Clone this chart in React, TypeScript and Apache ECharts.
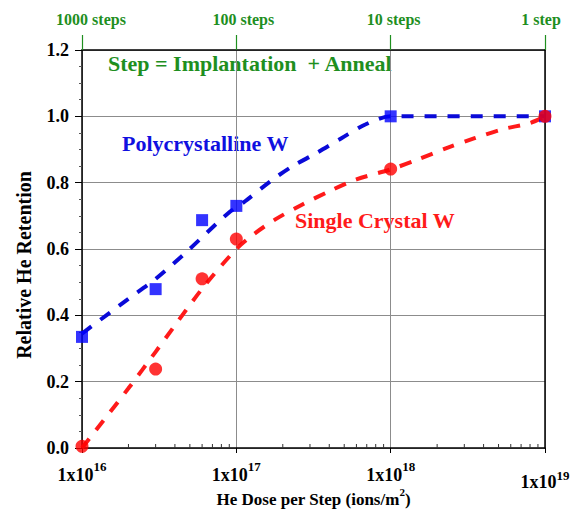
import React, { useEffect, useRef } from "react";
import * as echarts from "echarts";

// ---- data ----
const polyX = [1e16, 3e16, 6e16, 1e17, 1e18, 1e19];
const polyY = [0.335, 0.479, 0.687, 0.73, 1.0, 1.0];
const singleX = [1e16, 3e16, 6e16, 1e17, 1e18, 1e19];
const singleY = [0.005, 0.238, 0.51, 0.63, 0.841, 1.0];

const polyFitX = [1e16, 2e16, 3e16, 4.8e16, 8.7e16, 1.14e17, 1.66e17, 2.3e17, 3.3e17, 4.8e17, 6.9e17, 1e18, 1e19];
const polyFitY = [0.345, 0.45, 0.51, 0.593, 0.705, 0.744, 0.804, 0.849, 0.889, 0.934, 0.976, 1.0, 1.0];
const singleFitX = [1e16, 2e16, 3e16, 6e16, 1e17, 1.3e17, 1.8e17, 2.7e17, 4e17, 6e17, 1e18, 1.5e18, 2.3e18, 3.5e18, 5.2e18, 8e18, 1e19];
const singleFitY = [0.0, 0.18, 0.29, 0.48, 0.6, 0.645, 0.69, 0.735, 0.774, 0.81, 0.84, 0.87, 0.904, 0.934, 0.96, 0.98, 1.0];

const xMin = 1e16;
const xMax = 1e19;
const yMin = 0;
const yMax = 1.2;
const yInterval = 0.2;
const stepLabels: Record<number, string> = { 16: "1000 steps", 17: "100 steps", 18: "10 steps", 19: "1 step" };
const minorMultipliers = [2, 3, 4, 5, 6, 7, 8, 9];
const decades = [16, 17, 18];

const FONT = "Liberation Serif";
const GREEN = "#1f8f1f";
const BLUE = "#0000ff";
const RED = "#ff0000";

const stepStyle = (pad: number[]) => ({
  fontFamily: FONT,
  fontWeight: "bold",
  fontSize: 16,
  color: GREEN,
  padding: pad,
});

export default function App() {
  const ref = useRef<HTMLDivElement>(null);
  useEffect(() => {
    if (!ref.current) return;
    const chart = echarts.init(ref.current, undefined, { renderer: "svg" });
    const minorTicks: number[][] = [];
    decades.forEach((d) => minorMultipliers.forEach((m) => minorTicks.push([m * Math.pow(10, d), 0])));

    const option: any = {
      animation: false,
      backgroundColor: "#fff",
      grid: { left: 82, right: 39, top: 50, bottom: 64, containLabel: false, outerBoundsMode: "none" },
      xAxis: [
        {
          type: "log",
          logBase: 10,
          min: xMin,
          max: xMax,
          position: "bottom",
          name: "{a|He Dose per Step (ions/m}{s|2}{a|)}",
          nameLocation: "middle",
          nameGap: 38,
          nameMoveOverlap: false,
          nameTextStyle: {
            rich: {
              a: { fontFamily: FONT, fontWeight: "bold", fontSize: 17, color: "#000", lineHeight: 22, verticalAlign: "bottom" },
              s: { fontFamily: FONT, fontWeight: "bold", fontSize: 11, color: "#000", lineHeight: 16, verticalAlign: "top" },
            },
          },
          axisLine: { show: true, onZero: false, lineStyle: { color: "#000", width: 1.5 } },
          axisTick: { show: true, length: 5, lineStyle: { color: "#000" } },
          minorTick: { show: false },
          splitLine: { show: true, lineStyle: { color: "#8c8c8c", width: 1 } },
          axisLabel: {
            margin: 12,
            formatter: (v: number) => {
              const e = Math.round(Math.log10(v));
              return e === 19 ? `{b2|1x10}{s2|${e}}` : `{b|1x10}{s|${e}}`;
            },
            rich: {
              b: { fontFamily: FONT, fontWeight: "bold", fontSize: 18, color: "#000", lineHeight: 24, verticalAlign: "bottom" },
              s: { fontFamily: FONT, fontWeight: "bold", fontSize: 13, color: "#000", lineHeight: 12, verticalAlign: "top" },
              b2: { fontFamily: FONT, fontWeight: "bold", fontSize: 18, color: "#000", lineHeight: 31, verticalAlign: "bottom" },
              s2: { fontFamily: FONT, fontWeight: "bold", fontSize: 13, color: "#000", lineHeight: 12, verticalAlign: "middle" },
            },
          },
        },
        {
          type: "log",
          logBase: 10,
          min: xMin,
          max: xMax,
          position: "top",
          axisLine: { show: true, onZero: false, lineStyle: { color: "#000", width: 1.5 } },
          axisTick: { show: true, length: 15, lineStyle: { color: GREEN, width: 1.2 } },
          splitLine: { show: false },
          axisLabel: {
            margin: 23,
            fontFamily: FONT,
            fontWeight: "bold",
            fontSize: 16,
            color: GREEN,
            formatter: (v: number) => {
              const e = Math.round(Math.log10(v));
              return stepLabels[e] ? `{t${e}|${stepLabels[e]}}` : "";
            },
            rich: {
              t16: stepStyle([0, 0, 0, 18]),
              t17: stepStyle([0, 0, 0, 14]),
              t18: stepStyle([0, 0, 0, 6]),
              t19: stepStyle([0, 8, 0, 0]),
            },
          },
        },
      ],
      yAxis: [
        {
          type: "value",
          min: yMin,
          max: yMax,
          interval: yInterval,
          name: "Relative He Retention",
          nameLocation: "middle",
          nameGap: 48,
          nameMoveOverlap: false,
          nameTextStyle: { fontFamily: FONT, fontWeight: "bold", fontSize: 20, color: "#000", padding: [0, 32, 0, 0] },
          axisLine: { show: true, onZero: false, lineStyle: { color: "#000", width: 1.5 } },
          axisTick: { show: true, length: 7, lineStyle: { color: "#000" } },
          minorTick: { show: true, splitNumber: 4, length: 3, lineStyle: { color: "#555" } },
          splitLine: { show: true, lineStyle: { color: "#8c8c8c", width: 1 } },
          axisLabel: {
            margin: 13,
            fontFamily: FONT,
            fontWeight: "bold",
            fontSize: 18,
            color: "#000",
            formatter: (v: number) => v.toFixed(1),
          },
        },
        {
          type: "value",
          min: yMin,
          max: yMax,
          interval: yInterval,
          position: "right",
          axisLine: { show: true, onZero: false, lineStyle: { color: "#000", width: 1.5 } },
          axisTick: { show: false },
          axisLabel: { show: false },
          splitLine: { show: false },
        },
      ],
      graphic: [
        {
          type: "text",
          left: 108,
          top: 52,
          style: { text: "Step = Implantation  + Anneal", font: `bold 22px "${FONT}"`, fill: GREEN },
        },
        {
          type: "text",
          left: 122,
          top: 132,
          style: { text: "Polycrystalline W", font: `bold 22px "${FONT}"`, fill: "#1010e0" },
        },
        {
          type: "text",
          left: 295,
          top: 209,
          style: { text: "Single Crystal W", font: `bold 22px "${FONT}"`, fill: "#ff1a1a" },
        },
      ],
      series: [
        {
          type: "custom",
          xAxisIndex: 0,
          yAxisIndex: 0,
          silent: true,
          data: minorTicks,
          renderItem: (params: any, api: any) => {
            const p = api.coord([api.value(0), api.value(1)]);
            return {
              type: "line",
              shape: { x1: p[0], y1: p[1], x2: p[0], y2: p[1] - 4 },
              style: { stroke: "#333", lineWidth: 1 },
            };
          },
          z: 1,
        },
        {
          name: "poly fit",
          type: "line",
          data: polyFitX.map((x, i) => [x, polyFitY[i]]),
          smooth: 0.3,
          showSymbol: false,
          symbol: "none",
          lineStyle: { color: "#0a0ad8", width: 4, type: [12, 11], cap: "butt" },
          z: 3,
        },
        {
          name: "single fit",
          type: "line",
          data: singleFitX.map((x, i) => [x, singleFitY[i]]),
          smooth: 0.3,
          showSymbol: false,
          symbol: "none",
          lineStyle: { color: "#ff1a1a", width: 4, type: [12, 11], cap: "butt" },
          z: 3,
        },
        {
          name: "Polycrystalline W",
          type: "scatter",
          data: polyX.map((x, i) => [x, polyY[i]]),
          symbol: "rect",
          symbolSize: 12,
          itemStyle: { color: BLUE },
          z: 4,
        },
        {
          name: "Single Crystal W",
          type: "scatter",
          data: singleX.map((x, i) => [x, singleY[i]]),
          symbol: "circle",
          symbolSize: 13,
          itemStyle: { color: RED },
          z: 5,
        },
      ],
    };
    chart.setOption(option);
    return () => chart.dispose();
  }, []);
  return <div ref={ref} style={{ position: "absolute", left: 0, top: 0, width: 584, height: 512 }} />;
}
